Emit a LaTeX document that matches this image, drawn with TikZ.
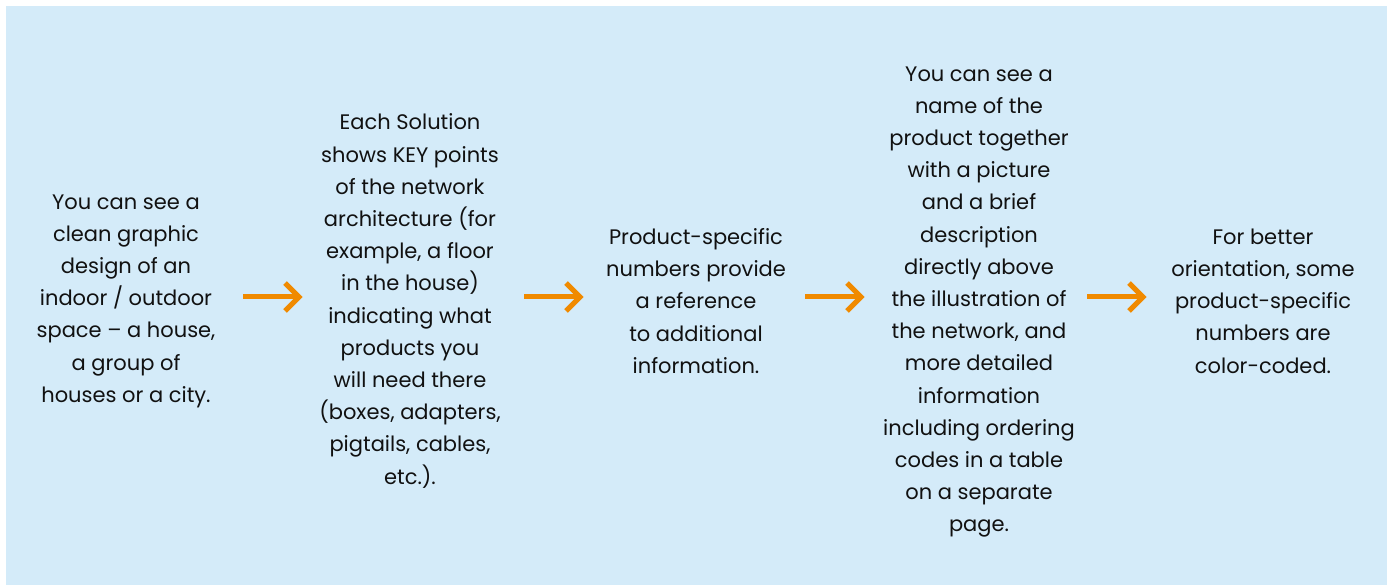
\documentclass[tikz,border=0pt]{standalone}
\usepackage{fontspec}
\setmainfont{Poppins}
\definecolor{bgblue}{HTML}{D4EBF9}
\definecolor{arrorange}{HTML}{F08A00}
\definecolor{txt}{HTML}{111111}
\begin{document}
\begin{tikzpicture}[x=1pt,y=-1pt,
  txtbox/.style={align=center,inner sep=0pt,text=txt,font=\fontsize{21}{32.2}\selectfont},
  flowarrow/.style={draw=arrorange,line width=5pt}]
\useasboundingbox (0,0) rectangle (1387,585);
\fill[bgblue] (6,6) rectangle (1387,585);
\node[txtbox] (t1) at (126,301) {You can see a\\clean graphic\\design of an\\indoor / outdoor\\space – a house,\\a group of\\houses or a city.};
\node[txtbox] (t2) at (410,301) {Each Solution\\shows KEY points\\of the network\\architecture (for\\example, a floor\\in the house)\\indicating what\\products you\\will need there\\(boxes, adapters,\\pigtails, cables,\\etc.).};
\node[txtbox] (t3) at (696,301) {Product-specific\\numbers provide\\a reference\\to additional\\information.};
\node[txtbox] (t4) at (979,302) {You can see a\\name of the\\product together\\with a picture\\and a brief\\description\\directly above\\the illustration of\\the network, and\\more detailed\\information\\including ordering\\codes in a table\\on a separate\\page.};
\node[txtbox] (t5) at (1263,301) {For better\\orientation, some\\product-specific\\numbers are\\color-coded.};
\foreach \i/\xs in {1/243,2/524,3/805,4/1087}{
  \coordinate (s\i) at (\xs,297);
  \coordinate (e\i) at (\xs+56,297);
  \draw[flowarrow] (s\i) -- ([xshift=-2pt]e\i);
  \draw[flowarrow,line join=miter] ([shift={(-14,-14)}]e\i) -- (e\i) -- ([shift={(-14,14)}]e\i);
}
\end{tikzpicture}
\end{document}
